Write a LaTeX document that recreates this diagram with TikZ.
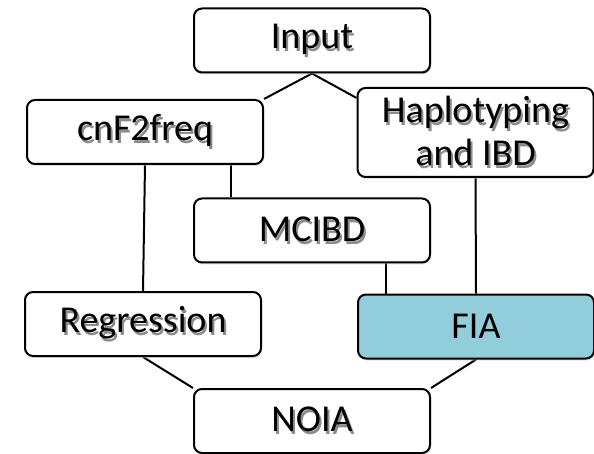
\documentclass[tikz,border=0pt]{standalone}
\usepackage{fontspec}
\setmainfont{Carlito}
\usetikzlibrary{shadows,backgrounds,calc}
\newcommand{\shad}[1]{\makebox[0pt][l]{\hspace{1pt}\raisebox{-1.4pt}{\textcolor{black!45}{#1}}}#1}
\begin{document}
\begin{tikzpicture}[x=0.5pt,y=-0.5pt,
  box/.style={rectangle,draw,line width=1pt,rounded corners=4pt,fill=white,
    minimum width=118pt,minimum height=32pt,align=center,
    font=\fontsize{19}{21.5}\selectfont,
    drop shadow={shadow xshift=0.6pt,shadow yshift=-1pt,fill=black!22}},
  link/.style={line width=1pt}]
\useasboundingbox (0,0) rectangle (594,454);
\node [box] (in) at (312,40.5) {\shad{Input}};
\node [box] (cnf) at (145,132) {\shad{cnF2freq}};
\node [box,minimum height=44.5pt] (hap) at (475.5,132.5) {\shad{Haplotyping}\\\shad{and IBD}};
\node [box] (mc) at (312,230.5) {\shad{MCIBD}};
\node [box] (reg) at (143,324) {\shad{Regression}};
\node [box,fill={rgb,255:red,146;green,205;blue,220}] (fia) at (476,326.5) {FIA};
\node [box] (noia) at (312,421) {\shad{NOIA}};
\begin{scope}[on background layer]
\draw [link] (in.south) -- (cnf.north east);
\draw [link] (in.south) -- ($(hap.north west)!0.12!(hap.south west)$);
\draw [link] (cnf.south) -- (reg.north);
\draw [link] (mc.north west) ++(38,0) coordinate (m1) -- (m1 |- cnf.south);
\draw [link] (hap.south) -- (fia.north);
\draw [link] (fia.north west) ++(29,0) coordinate (f1) -- (f1 |- mc.south);
\draw [link] (reg.south) -- (noia.north west);
\draw [link] (fia.south) -- (noia.north east);
\end{scope}
\end{tikzpicture}
\end{document}
